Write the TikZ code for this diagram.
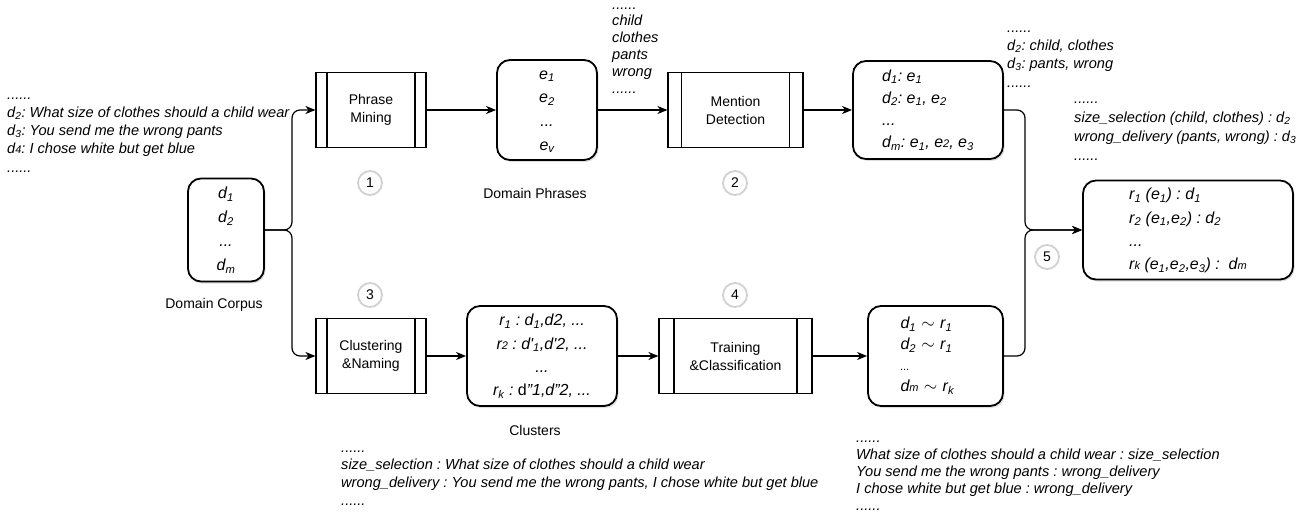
\documentclass[tikz,border=0pt]{standalone}
\usepackage{fontspec}
\setmainfont{Liberation Sans}
\usetikzlibrary{arrows.meta,shadows}
\frenchspacing

\newcommand{\smallidx}[1]{{\fontsize{11}{11}\selectfont #1}}

\tikzset{
  procbox/.style={draw, line width=1.1pt, minimum height=75pt, inner sep=0pt, align=center,
    font=\fontsize{14}{18}\selectfont,
    path picture={
      \draw[line width=1.1pt] ([xshift=#1]path picture bounding box.north west) -- ([xshift=#1]path picture bounding box.south west);
      \draw[line width=1.1pt] ([xshift=-#1]path picture bounding box.north east) -- ([xshift=-#1]path picture bounding box.south east);}},
  roundbox/.style={draw, line width=1.8pt, rounded corners=13pt, fill=white, inner sep=0pt,
    drop shadow={shadow xshift=1.5pt, shadow yshift=-2pt, opacity=0.25},
    font=\fontsize{16}{#1}\selectfont\itshape},
  roundbox/.default=23,
  note/.style={anchor=north west, inner sep=0pt, align=left, font=\fontsize{14.6}{#1}\selectfont\itshape},
  note/.default=17.5,
  captext/.style={inner sep=0pt, font=\fontsize{14}{17}\selectfont},
  stepmark/.style={circle, draw=black!18, line width=1.8pt, fill=white, minimum size=24pt, inner sep=0pt,
    font=\fontsize{14}{17}\selectfont},
  conn/.style={line width=1.2pt, rounded corners=8pt, -{Stealth[length=10pt,width=8pt,inset=3pt]}}
}

\begin{document}
\begin{tikzpicture}[x=1pt,y=-1pt]
\useasboundingbox (0,0) rectangle (1312,514);

\coordinate (split) at (292,230);
\coordinate (merge) at (1025,230);

\node[roundbox=24, minimum width=76pt, minimum height=103pt, align=center] (corpus) at (226,230)
  {\strut d\textsubscript{1}\\d\textsubscript{2}\\...\\d\textsubscript{m}\strut};

\node[procbox=11pt, minimum width=110pt] (pm) at (371,110) {Phrase\\Mining};
\node[roundbox=23.7, minimum width=100pt, minimum height=100pt, align=center] (phr) at (547,110)
  {\strut e\textsubscript{1}\\e\textsubscript{2}\\...\\e\textsubscript{v}\strut};
\node[procbox=13.5pt, minimum width=135pt] (md) at (735.5,110) {Mention\\Detection};
\node[roundbox=22.3, minimum width=150pt, minimum height=98pt, align=left] (dtop) at (928,110)
  {\strut d\textsubscript{1}: e\textsubscript{1}\\d\textsubscript{2}: e\textsubscript{1}, e\textsubscript{2}\\...\\d\textsubscript{m}: e\textsubscript{1}, e\smallidx{2}, e\textsubscript{3}\strut};

\node[procbox=11pt, minimum width=110pt] (cn) at (371,356) {Clustering\\\&Naming};
\node[roundbox=23.3, minimum width=150pt, minimum height=100pt, align=center] (cl) at (542,356)
  {\strut r\textsubscript{1} : d\textsubscript{1},d2, ...\\r\smallidx{2} : d\textquotesingle\textsubscript{1},d\textquotesingle 2, ...\\...\\r\textsubscript{k} : {\upshape d}"1,d"2, ...\strut};
\node[procbox=15pt, minimum width=153pt] (tc) at (735.5,356) {Training\\\&Classification};
\node[roundbox=21, minimum width=135pt, minimum height=100pt, text width=70pt, align=left] (dbot) at (935.5,356)
  {\strut d\textsubscript{1} $\sim$ r\textsubscript{1}\\d\textsubscript{2} $\sim$ r\textsubscript{1}\\\smallidx{...}\\d\smallidx{m} $\sim$ r\textsubscript{k}\strut};

\node[roundbox=23.3, minimum width=210pt, minimum height=99pt, align=left] (res) at (1188,230)
  {\strut r\textsubscript{1} (e\textsubscript{1}) : d\textsubscript{1}\\r\textsubscript{2} (e\textsubscript{1},e\textsubscript{2}) : d\textsubscript{2}\\...\\r\smallidx{k} (e\textsubscript{1},e\textsubscript{2},e\textsubscript{3}) :\ \ d\smallidx{m}\strut};

\node[stepmark] (s1) at (370,183) {1};
\node[stepmark] (s2) at (735,183) {2};
\node[stepmark] (s3) at (370,295) {3};
\node[stepmark] (s4) at (735,295) {4};
\node[stepmark] (s5) at (1047,257) {5};

\node[captext] (capcorpus) at (214,305) {Domain Corpus};
\node[captext] (capphr) at (535,193) {Domain Phrases};
\node[captext] (capcl) at (535,430) {Clusters};

\node[note=18.2] (ncorpus) at (7,86.3)
  {\strut......\\d\textsubscript{2}: What size of clothes should a child wear\\d\textsubscript{3}: You send me the wrong pants\\d\smallidx{4}: I chose white but get blue\\......};
\node[note=16.8] (nphr) at (612,-2.8)
  {\strut......\\child\\clothes\\pants\\wrong\\......};
\node[note=18.3] (nmention) at (1007,19.2)
  {\strut......\\d\textsubscript{2}: child, clothes\\d\textsubscript{3}: pants, wrong\\......};
\node[note=19] (nres) at (1074,89.7)
  {\strut......\\size\_selection (child, clothes) : d\textsubscript{2}\\wrong\_delivery (pants, wrong) : d\textsubscript{3}\\......};
\node[note=17.7] (ncl) at (341,439.6)
  {\strut......\\size\_selection : What size of clothes should a child wear\\wrong\_delivery : You send me the wrong pants, I chose white but get blue\\......};
\node[note=17] (ntc) at (856,430.1)
  {\strut......\\What size of clothes should a child wear : size\_selection\\You send me the wrong pants : wrong\_delivery\\I chose white but get blue : wrong\_delivery\\......};

\draw[conn] (corpus.east) -- (split) |- (pm.west);
\draw[conn] (corpus.east) -- (split) |- (cn.west);
\draw[conn] (pm) -- (phr);
\draw[conn] (phr) -- (md);
\draw[conn] (md) -- (dtop);
\draw[conn] (cn) -- (cl);
\draw[conn] (cl) -- (tc);
\draw[conn] (tc) -- (dbot);
\draw[conn] (dtop.east) -| (merge) -- (res.west);
\draw[conn] (dbot.east) -| (merge) -- (res.west);

\end{tikzpicture}
\end{document}
